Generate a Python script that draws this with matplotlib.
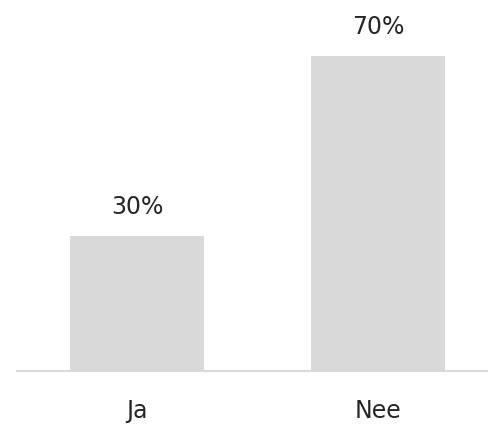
import matplotlib.pyplot as plt

# data
categories = ['Ja', 'Nee']
percentages = [30, 70]

fig = plt.figure(figsize=(4.88, 4.24), dpi=100, facecolor='white')
ax = fig.add_axes([17 / 488, 53 / 424, 471 / 488, 371 / 424])
ax.set_facecolor('white')

x = list(range(len(categories)))
bars = ax.bar(x, percentages, width=0.556, color='#D9D9D9')

for b, v in zip(bars, percentages):
    ax.annotate(f'{v}%', (b.get_x() + b.get_width() / 2, v),
                xytext=(0, 12), textcoords='offset points',
                ha='center', va='bottom', fontsize=17, color='#262626')

ax.set_xlim(-0.5, 1.456)
ax.set_ylim(0, 82.4)
ax.set_xticks(x)
ax.set_xticklabels(categories, fontsize=17, color='#262626')
ax.tick_params(axis='x', length=0, pad=20)
ax.set_yticks([])

for s in ['top', 'right', 'left']:
    ax.spines[s].set_visible(False)
ax.spines['bottom'].set_color('#D9D9D9')
ax.spines['bottom'].set_linewidth(1.5)

fig.savefig('out.png', dpi=100, facecolor='white')
